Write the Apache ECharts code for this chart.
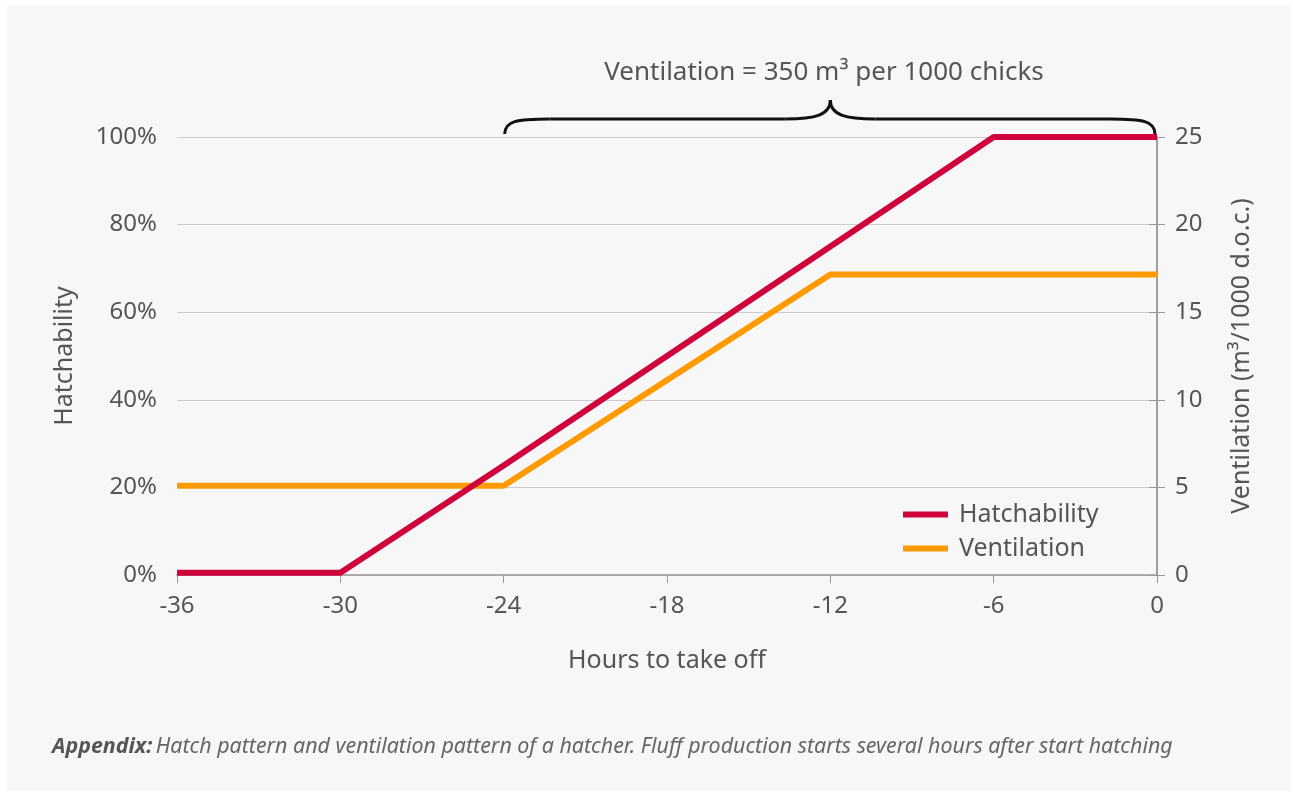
<!DOCTYPE html>
<html>
<head>
<meta charset="utf-8">
<script src="https://cdn.jsdelivr.net/npm/echarts@6/dist/echarts.min.js"></script>
<style>
  html, body { margin: 0; padding: 0; background: #ffffff; }
  #wrap { position: absolute; left: 7px; top: 5px; width: 1283px; height: 786px; background: #f7f7f7; }
  #main { position: absolute; left: 0; top: 0; width: 1293px; height: 794px; }
</style>
</head>
<body>
<div id="wrap"></div>
<div id="main"></div>
<script>
// data
var hours = [-36, -30, -24, -12, -6, 0];
var hatchability = [0.5, 0.5, 25, 75, 100, 100];       // %
var ventilation = [5.1, 5.1, 5.1, 17.15, 17.15, 17.15]; // m3/1000 d.o.c.
var xTicks = { min: -36, max: 0, step: 6 };
var leftTicks = { min: 0, max: 100, step: 20 };
var rightTicks = { min: 0, max: 25, step: 5 };

var FONT = "Noto Sans";
var TXT = "#555555";
var RED = "#d0043c";
var ORANGE = "#ff9a00";

var myChart = echarts.init(document.getElementById("main"));

var option = {
  backgroundColor: "transparent",
  textStyle: { fontFamily: FONT },
  title: {
    text: "Ventilation = 350 m³ per 1000 chicks",
    left: 819,
    textAlign: "center",
    top: 55,
    textStyle: { fontFamily: FONT, fontSize: 26, fontWeight: "normal", color: TXT }
  },
  legend: {
    orient: "vertical",
    left: 898,
    top: 497,
    itemWidth: 45,
    itemHeight: 6,
    itemGap: 9,
    textStyle: { fontFamily: FONT, fontSize: 25, color: TXT, padding: [0, 0, 0, 6] },
    data: [
      { name: "Hatchability", icon: "rect" },
      { name: "Ventilation", icon: "rect" }
    ]
  },
  grid: { left: 177, right: 136, top: 137, bottom: 219 },
  xAxis: {
    type: "value",
    min: xTicks.min,
    max: xTicks.max,
    interval: xTicks.step,
    name: "Hours to take off",
    nameLocation: "middle",
    nameGap: 73,
    nameTextStyle: { fontFamily: FONT, fontSize: 25, color: TXT },
    axisLine: { show: true, lineStyle: { color: "#999999", width: 1.5 } },
    axisTick: { show: true, length: 8, lineStyle: { color: "#999999" } },
    axisLabel: { fontFamily: FONT, fontSize: 24, color: TXT, margin: 19 },
    splitLine: { show: false }
  },
  yAxis: [
    {
      type: "value",
      position: "left",
      min: leftTicks.min,
      max: leftTicks.max,
      interval: leftTicks.step,
      name: "Hatchability",
      nameLocation: "middle",
      nameGap: 100,
      nameTextStyle: { fontFamily: FONT, fontSize: 25, color: TXT },
      axisLine: { show: true, lineStyle: { color: "#999999", width: 1.5 } },
      axisTick: { show: true, length: 8, lineStyle: { color: "#999999" } },
      axisLabel: { fontFamily: FONT, fontSize: 24, color: TXT, margin: 20, formatter: "{value}%" },
      splitLine: { show: true, lineStyle: { color: "#cccccc", width: 1 } }
    },
    {
      type: "value",
      position: "right",
      min: rightTicks.min,
      max: rightTicks.max,
      interval: rightTicks.step,
      name: "Ventilation (m³/1000 d.o.c.)",
      nameLocation: "middle",
      nameGap: 72,
      nameTextStyle: { fontFamily: FONT, fontSize: 25, color: TXT },
      axisLine: { show: true, lineStyle: { color: "#999999", width: 1.5 } },
      axisTick: { show: true, length: 8, lineStyle: { color: "#999999" } },
      axisLabel: { fontFamily: FONT, fontSize: 24, color: TXT, margin: 18 },
      splitLine: { show: false }
    }
  ],
  series: [
    {
      name: "Ventilation",
      type: "line",
      yAxisIndex: 1,
      data: hours.map(function (h, i) { return [h, ventilation[i]]; }),
      showSymbol: false,
      color: ORANGE,
      lineStyle: { width: 6, color: ORANGE },
      z: 2
    },
    {
      name: "Hatchability",
      type: "line",
      yAxisIndex: 0,
      data: hours.map(function (h, i) { return [h, hatchability[i]]; }),
      showSymbol: false,
      color: RED,
      lineStyle: { width: 6, color: RED },
      z: 3
    }
  ]
};

myChart.setOption(option);

// curly brace over -24..0, placed through the axes
var p0 = myChart.convertToPixel({ xAxisIndex: 0, yAxisIndex: 0 }, [-24, 100]);
var pm = myChart.convertToPixel({ xAxisIndex: 0, yAxisIndex: 0 }, [-12, 100]);
var p1 = myChart.convertToPixel({ xAxisIndex: 0, yAxisIndex: 0 }, [0, 100]);
var x0 = p0[0] + 1, xm = pm[0], x1 = p1[0] - 2, y0 = p0[1] - 3;
var arm = y0 - 15, peak = y0 - 34;
var braceStyle = { fill: null, stroke: "#111111", lineWidth: 3 };

function curve(a, b, c, d) {
  return {
    type: "bezierCurve",
    shape: { x1: a[0], y1: a[1], cpx1: b[0], cpy1: b[1], cpx2: c[0], cpy2: c[1], x2: d[0], y2: d[1] },
    style: braceStyle, z: 10
  };
}
function seg(a, b) {
  return { type: "line", shape: { x1: a[0], y1: a[1], x2: b[0], y2: b[1] }, style: braceStyle, z: 10 };
}

myChart.setOption({
  graphic: [
    curve([x0, y0], [x0, arm + 2], [x0 + 12, arm], [x0 + 45, arm]),
    seg([x0 + 45, arm], [xm - 45, arm]),
    curve([xm - 45, arm], [xm - 15, arm], [xm, arm - 4], [xm, peak]),
    curve([xm, peak], [xm, arm - 4], [xm + 15, arm], [xm + 45, arm]),
    seg([xm + 45, arm], [x1 - 45, arm]),
    curve([x1 - 45, arm], [x1 - 12, arm], [x1, arm + 2], [x1, y0]),
    {
      type: "text",
      left: 52,
      top: 736,
      style: {
        rich: {
          b: { fontFamily: FONT, fontSize: 21.4, fontStyle: "italic", fontWeight: "bold", fill: TXT },
          n: { fontFamily: FONT, fontSize: 21.4, fontStyle: "italic", fill: "#666666" }
        },
        text: "{b|Appendix:} {n|Hatch pattern and ventilation pattern of a hatcher. Fluff production starts several hours after start hatching}"
      }
    }
  ]
});
</script>
</body>
</html>
